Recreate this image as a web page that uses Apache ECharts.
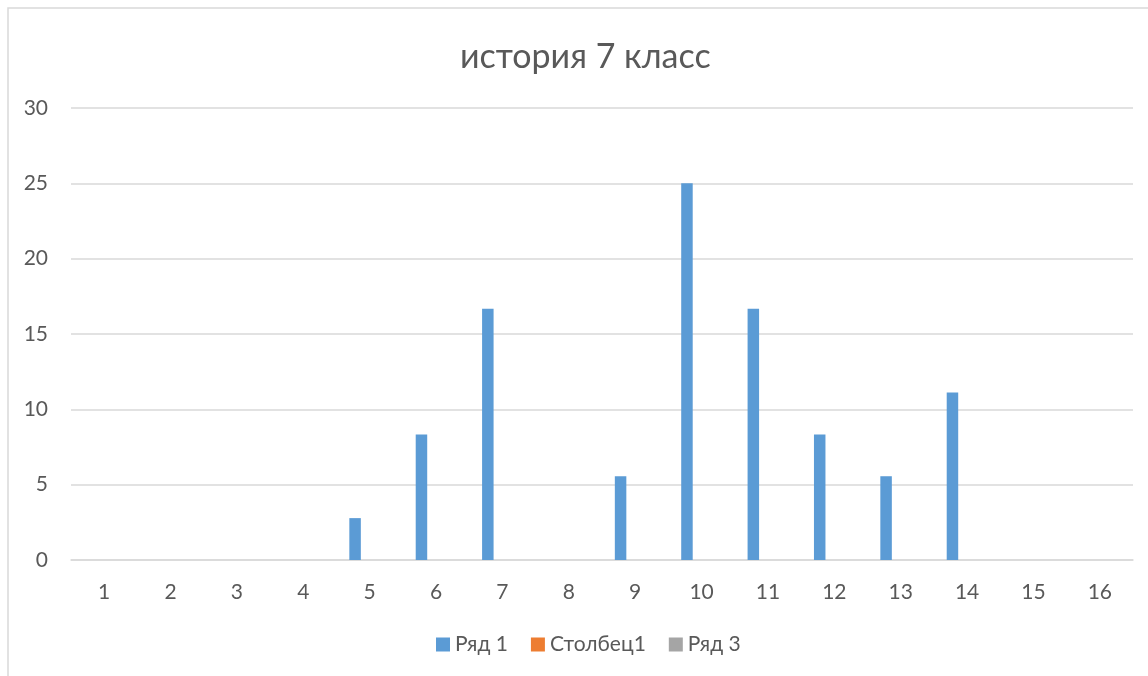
<!DOCTYPE html>
<html>
<head>
<meta charset="utf-8">
<script src="https://cdn.jsdelivr.net/npm/echarts@6/dist/echarts.min.js"></script>
<style>
  html, body { margin: 0; padding: 0; background: #fff; }
  #chart { width: 1148px; height: 676px; }
</style>
</head>
<body>
<div id="chart"></div>
<script>
// categories along the x axis
const categories = ['1', '2', '3', '4', '5', '6', '7', '8', '9', '10', '11', '12', '13', '14', '15', '16'];
// series values
const ryad1 = [0, 0, 0, 0, 2.78, 8.33, 16.67, 0, 5.56, 25, 16.67, 8.33, 5.56, 11.11, 0, 0];
const stolbec1 = [null, null, null, null, null, null, null, null, null, null, null, null, null, null, null, null];
const ryad3 = [null, null, null, null, null, null, null, null, null, null, null, null, null, null, null, null];
const seriesNames = ['Ряд 1', 'Столбец1', 'Ряд 3'];
const colors = ['#5B9BD5', '#ED7D31', '#A5A5A5'];

const font = 'Lato, "Liberation Sans", sans-serif';
const textColor = '#595959';

const chart = echarts.init(document.getElementById('chart'));

const barStyle = { barWidth: 11.5, barGap: '27%' };

let options = {
  animation: false,
  color: colors,
  title: {
    text: 'история 7 класс',
    left: 455,
    top: 35,
    textStyle: { fontFamily: font, fontSize: 34, fontWeight: 'normal', color: textColor },
  },
  legend: {
    bottom: 16,
    left: 431,
    icon: 'rect',
    itemWidth: 14,
    itemHeight: 14,
    itemGap: 23,
    textStyle: { fontFamily: font, fontSize: 21, color: textColor },
    data: seriesNames,
  },
  grid: { left: 71, right: 15, top: 108, bottom: 116 },
  xAxis: {
    type: 'category',
    data: categories,
    axisLine: { lineStyle: { color: '#D9D9D9', width: 1.5 } },
    axisTick: { show: false },
    axisLabel: { fontFamily: font, fontSize: 21, color: textColor, margin: 22 },
  },
  yAxis: {
    type: 'value',
    min: 0,
    max: 30,
    interval: 5,
    axisLine: { show: false },
    axisTick: { show: false },
    splitLine: { lineStyle: { color: '#D9D9D9', width: 1.5 } },
    axisLabel: { fontFamily: font, fontSize: 21, color: textColor, margin: 23 },
  },
  graphic: [
    {
      type: 'rect',
      shape: { x: 8, y: 8, width: 1300, height: 900 },
      style: { fill: 'none', stroke: '#D9D9D9', lineWidth: 1.5 },
      silent: true,
    },
  ],
  series: [
    { name: seriesNames[0], type: 'bar', data: ryad1, ...barStyle },
    { name: seriesNames[1], type: 'bar', data: stolbec1, ...barStyle },
    { name: seriesNames[2], type: 'bar', data: ryad3, ...barStyle },
  ],
};

chart.setOption(options);
</script>
</body>
</html>
